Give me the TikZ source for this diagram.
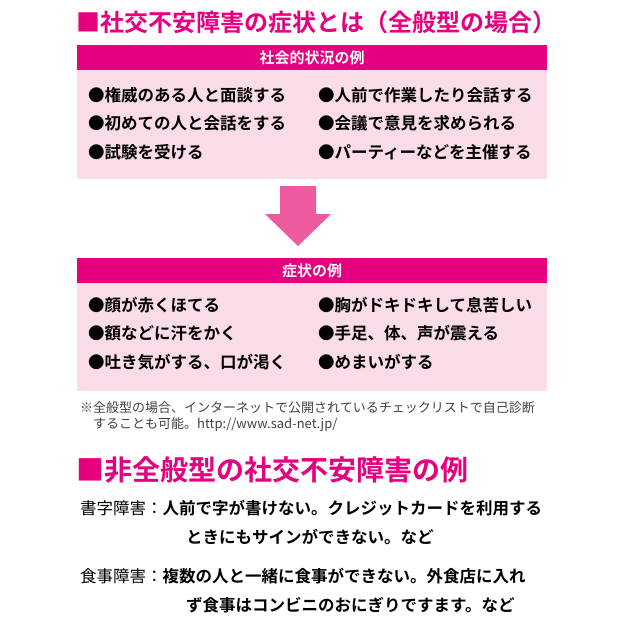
\documentclass[tikz,border=0pt]{standalone}
\usepackage{fontspec}
\setmainfont{Noto Sans CJK JP}
\newfontfamily\jpbold{Noto Sans CJK JP Bold}
\usetikzlibrary{positioning}
\definecolor{magent}{HTML}{E4007F}
\definecolor{palepink}{HTML}{FADCE8}
\definecolor{arrowpink}{HTML}{EE5A9E}
\tikzset{
  item/.style={anchor=west, font=\jpbold\fontsize{16.5}{16.5}\selectfont, inner sep=0pt},
  head/.style={font=\jpbold\fontsize{15}{15}\selectfont, text=white, inner sep=0pt},
  title/.style={anchor=west, font=\jpbold\fontsize{24}{24}\selectfont, text=magent, inner sep=0pt},
  note/.style={anchor=west, font=\fontsize{13}{13}\selectfont, text=black!75, inner sep=0pt},
}
\begin{document}
\begin{tikzpicture}[x=1pt,y=-1pt]
\useasboundingbox (0,0) rectangle (630,622);
\node[title] (T1) at (76,22) {■社交不安障害の症状とは（全般型の場合）};
% box 1
\fill[palepink] (77,45) rectangle (547,179);
\fill[magent] (77,45) rectangle (547,70);
\node[head] (H1) at (312,58) {社会的状況の例};
\node[item] (a1) at (88,95) {●権威のある人と面談する};
\node[item] (a2) at (88,123) {●初めての人と会話をする};
\node[item] (a3) at (88,152) {●試験を受ける};
\node[item] (b1) at (318,95) {●人前で作業したり会話する};
\node[item] (b2) at (318,123) {●会議で意見を求められる};
\node[item] (b3) at (318,152) {●パーティーなどを主催する};
% arrow
\fill[arrowpink] (280,186) -- (316,186) -- (316,214) -- (331,214) -- (298,246) -- (265,214) -- (280,214) -- cycle;
% box 2
\fill[palepink] (77,258) rectangle (547,391);
\fill[magent] (77,258) rectangle (547,283);
\node[head] (H2) at (312,271) {症状の例};
\node[item] (c1) at (88,305) {●顔が赤くほてる};
\node[item] (c2) at (88,333) {●額などに汗をかく};
\node[item] (c3) at (88,362) {●吐き気がする、口が渇く};
\node[item] (d1) at (318,305) {●胸がドキドキして息苦しい};
\node[item] (d2) at (318,333) {●手足、体、声が震える};
\node[item] (d3) at (318,362) {●めまいがする};
\node[note] (n1) at (80,408) {※全般型の場合、インターネットで公開されているチェックリストで自己診断};
\node[note] (n2) at (93,425) {することも可能。http://www.sad-net.jp/};
\node[title, font=\jpbold\fontsize{28}{28}\selectfont] (T2) at (76,470) {■非全般型の社交不安障害の例};
\node[item] (e1) at (80,508) {{\mdseries\fontspec{Noto Sans CJK JP}書字障害：}人前で字が書けない。クレジットカードを利用する};
\node[item] (e2) at (186,537) {ときにもサインができない。など};
\node[item] (f1) at (80,576) {{\fontspec{Noto Sans CJK JP}食事障害：}複数の人と一緒に食事ができない。外食店に入れ};
\node[item] (f2) at (186,605) {ず食事はコンビニのおにぎりですます。など};
\end{tikzpicture}
\end{document}
